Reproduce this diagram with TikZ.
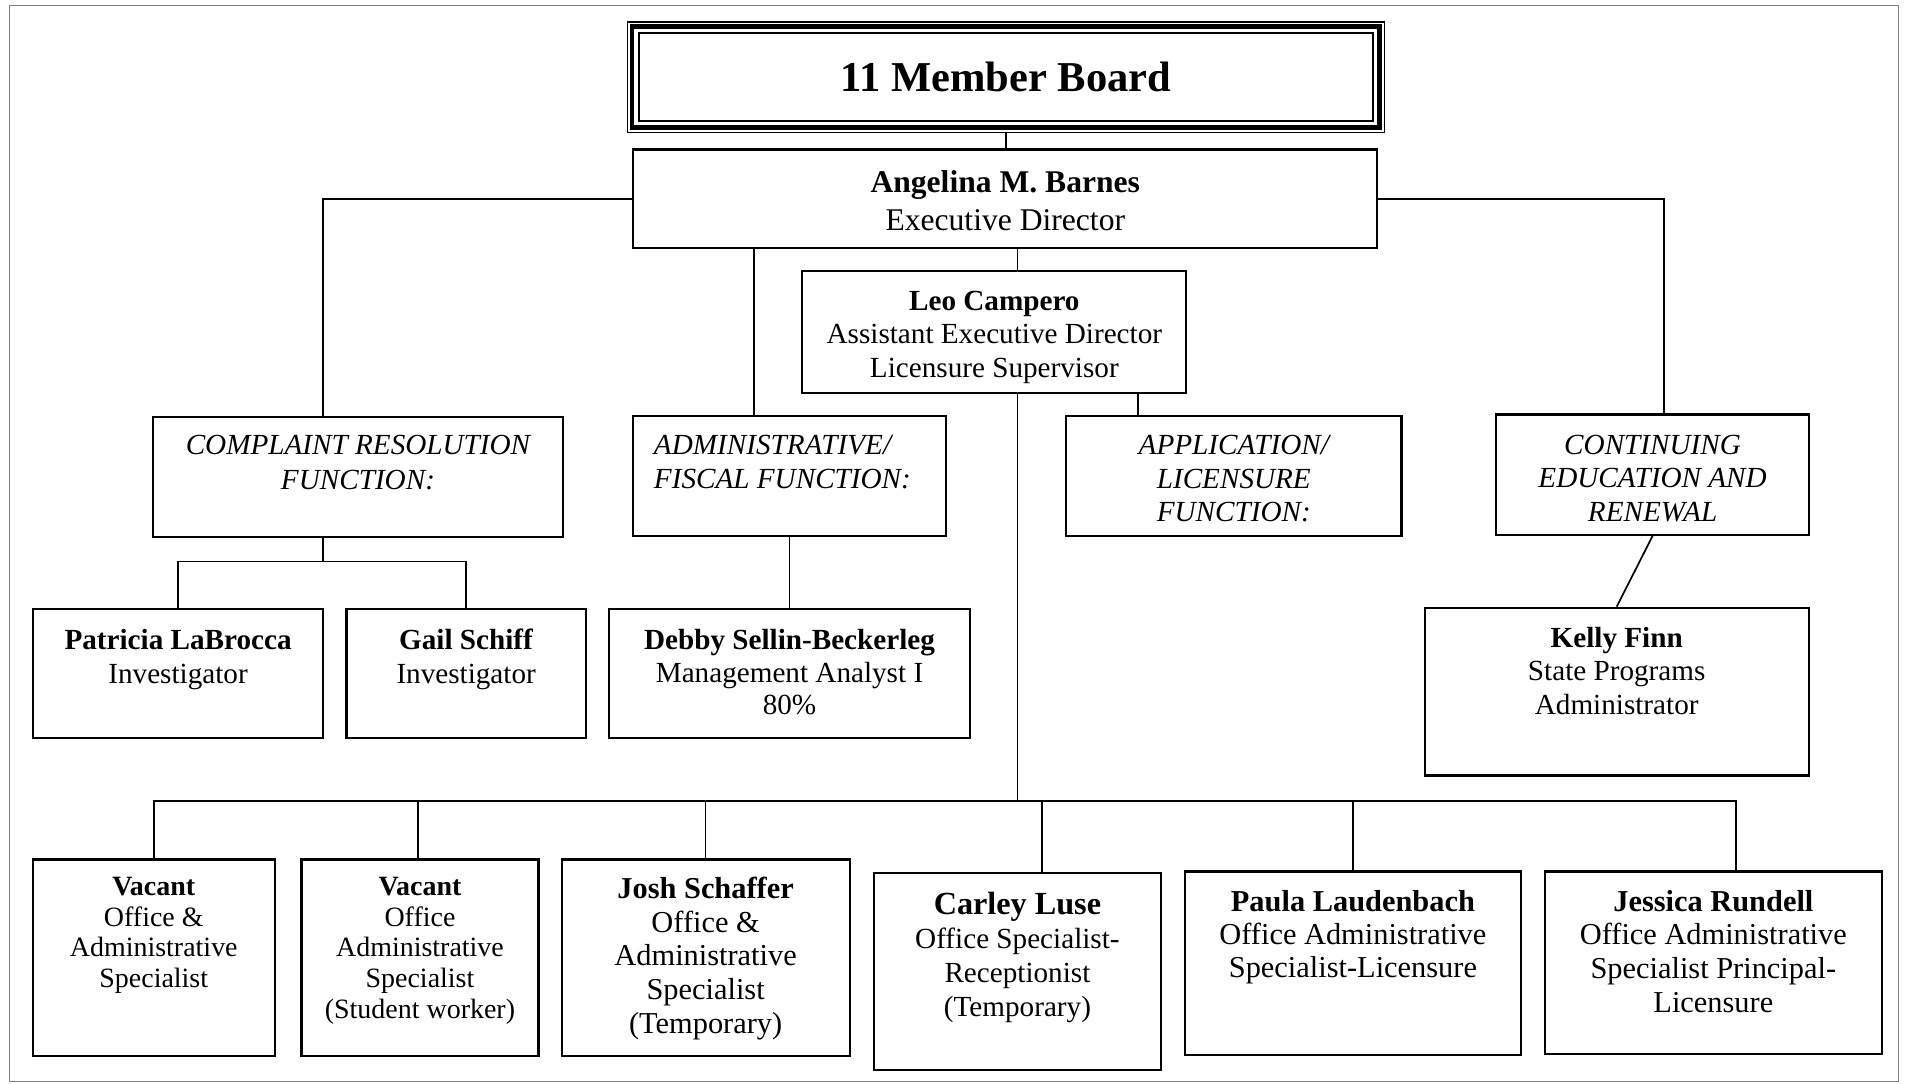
\documentclass[tikz,border=0pt]{standalone}
\usepackage{fontspec}
\setmainfont{Liberation Serif}
\usepackage{tikz}
\usetikzlibrary{positioning}

% width, height, space under the text, text
\newcommand{\cell}[4]{\parbox[c][#2pt][c]{#1pt}{\centering #4\par\vspace*{#3pt}}}

\begin{document}
\begin{tikzpicture}[x=1pt,y=-1pt]
    \tikzstyle{every node}+=[inner sep=0pt]
    \tikzstyle{box}=[draw=black, line width=1.8pt]
    \tikzstyle{link}=[draw=black, line width=1.4pt]
    \useasboundingbox (0,0) rectangle (1568,891);
    \draw [gray, line width=0.9pt] (7.5,4.5) rectangle (1562,889.5);
    % board
    \node [draw=black, line width=1.2pt, minimum width=623pt, minimum height=91pt] (board) at (827.5,63.5) {\fontsize{35}{40}\selectfont\bfseries 11 Member Board};
    \draw [line width=4pt] ([shift={(4.5,4.5)}]board.north west) rectangle ([shift={(-4.5,-4.5)}]board.south east);
    \draw [line width=1.8pt] ([shift={(10,10)}]board.north west) rectangle ([shift={(-10,-10)}]board.south east);
    % directors
    \node [box] (barnes) at (827,163.5) {\cell{612}{81}{-3}{\fontsize{26}{31}\selectfont\textbf{Angelina M. Barnes}\\Executive Director}};
    \node [box] (leo) at (818,273) {\cell{316}{100}{-9}{\fontsize{24}{27.5}\selectfont\textbf{Leo Campero}\\Assistant Executive Director\\Licensure Supervisor}};
    % functions
    \node [box] (complaint) at (294.5,392.5) {\cell{337}{99}{24}{\fontsize{24}{29}\selectfont\itshape COMPLAINT RESOLUTION\\FUNCTION:}};
    \node [box] (admin) at (649.5,391.5) {\cell{257}{99}{23}{\fontsize{24}{28}\selectfont\itshape\raggedright\leftskip=17pt ADMINISTRATIVE/\\FISCAL FUNCTION:}};
    \node [box] (application) at (1015,391.5) {\cell{276}{99}{-5}{\fontsize{24}{27.5}\selectfont\itshape APPLICATION/\\LICENSURE\\FUNCTION:}};
    \node [box] (continuing) at (1359.5,390.5) {\cell{257}{99}{-6}{\fontsize{24}{27.5}\selectfont\itshape CONTINUING\\EDUCATION AND\\RENEWAL}};
    % middle row
    \node [box] (patricia) at (146.5,554) {\cell{239}{106}{23}{\fontsize{24}{28}\selectfont\textbf{Patricia LaBrocca}\\Investigator}};
    \node [box] (gail) at (383.5,554) {\cell{197}{106}{23}{\fontsize{24}{28}\selectfont\textbf{Gail Schiff}\\Investigator}};
    \node [box] (debby) at (649.5,554) {\cell{297}{106}{2}{\fontsize{24}{27}\selectfont\textbf{Debby Sellin-Beckerleg}\\Management Analyst I\\80\%}};
    \node [box] (kelly) at (1330,569) {\cell{316}{138}{34}{\fontsize{24}{27.5}\selectfont\textbf{Kelly Finn}\\State Programs\\Administrator}};
    % bottom row
    \node [box] (vacanta) at (126.5,788) {\cell{199}{162}{37}{\fontsize{23}{25.3}\selectfont\textbf{Vacant}\\Office \&\\Administrative\\Specialist}};
    \node [box] (vacantb) at (345.5,788) {\cell{195}{162}{12}{\fontsize{23}{25.3}\selectfont\textbf{Vacant}\\Office\\Administrative\\Specialist\\(Student worker)}};
    \node [box] (josh) at (580.5,788) {\cell{237}{162}{-1}{\fontsize{25}{27.7}\selectfont\textbf{Josh Schaffer}\\Office \&\\Administrative\\Specialist\\(Temporary)}};
    \node [box] (carley) at (837,799) {\cell{236}{162}{23}{\fontsize{24}{28}\selectfont{\fontsize{26.5}{27}\selectfont\bfseries Carley Luse}\\Office Specialist-\\Receptionist\\(Temporary)}};
    \node [box] (paula) at (1113,792.5) {\cell{276}{151}{43}{\fontsize{25}{27.5}\selectfont\textbf{Paula Laudenbach}\\Office Administrative\\Specialist-Licensure}};
    \node [box] (jessica) at (1409.5,792) {\cell{277}{150}{19}{\fontsize{25}{27.7}\selectfont\textbf{Jessica Rundell}\\Office Administrative\\Specialist Principal-\\Licensure}};
    \coordinate (cbus) at (266,462);
    \coordinate (sbus) at (837,659);
    % lines
    \draw [link] (board.south) -- (board.south |- barnes.north);
    \draw [link] (barnes.west) -| ([xshift=-28.5pt]complaint.north);
    \draw [link] (barnes.east) -| ([xshift=9.5pt]continuing.north);
    \draw [link] ([xshift=-29.5pt]admin.north) -- ([xshift=-29.5pt]admin.north |- barnes.south);
    \draw [link] ([xshift=19pt]leo.north) -- ([xshift=19pt]leo.north |- barnes.south);
    \draw [link] ([xshift=-79pt]application.north) -- ([xshift=-79pt]application.north |- leo.south);
    \draw [link] (cbus |- complaint.south) -- (cbus);
    \draw [link] (patricia.north) |- (cbus) -| (gail.north);
    \draw [link] (admin.south) -- (debby.north);
    \draw [link] (continuing.south) -- (kelly.north);
    \draw [link] (leo.south -| sbus) -- (sbus);
    \draw [link] (vacanta.north) |- (sbus) -| ([xshift=18.5pt]jessica.north);
    \foreach \n/\dx in {vacantb/-1.5, josh/0, carley/20, paula/0}
        \draw [link] ([xshift=\dx pt]\n.north) -- ([xshift=\dx pt]\n.north |- sbus);
\end{tikzpicture}
\end{document}
